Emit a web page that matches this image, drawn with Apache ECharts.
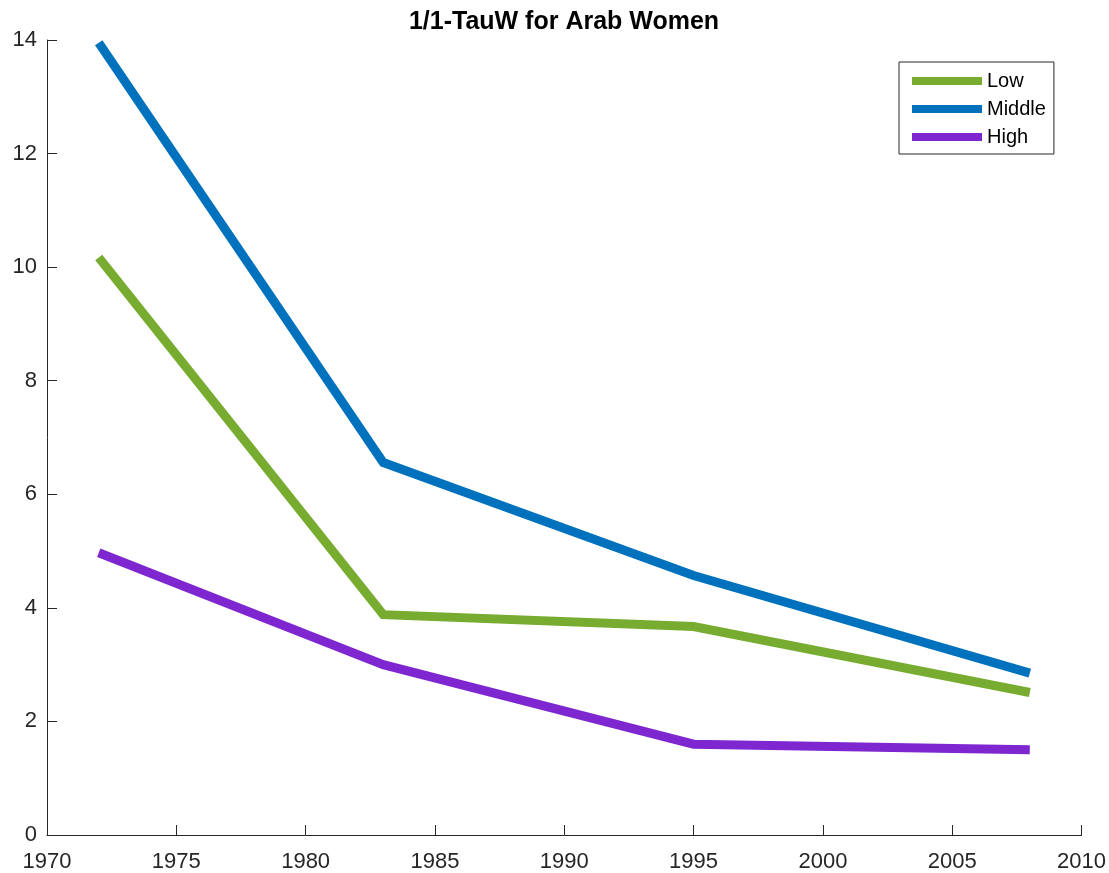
<!DOCTYPE html>
<html>
<head>
<meta charset="utf-8">
<style>
  html, body { margin: 0; padding: 0; background: #fff; }
  #chart { width: 1109px; height: 873px; }
</style>
<script src="https://cdn.jsdelivr.net/npm/echarts@6/dist/echarts.min.js"></script>
</head>
<body>
<div id="chart"></div>
<script>
// data
const years = [1972, 1983, 1995, 2008]
const lowValues = [10.17, 3.88, 3.67, 2.51]
const middleValues = [13.95, 6.56, 4.57, 2.85]
const highValues = [4.97, 3.0, 1.6, 1.5]
const seriesNames = ['Low', 'Middle', 'High']
const seriesColors = ['#77ac30', '#0072bd', '#7e27d0']

const font = 'Liberation Sans, Arial, Helvetica, sans-serif'
const axisColor = '#262626'

function toPairs(values) {
  return years.map((y, i) => [y, values[i]])
}

const chart = echarts.init(document.getElementById('chart'))

chart.setOption({
  animation: false,
  title: {
    text: '1/1-TauW for Arab Women',
    left: 559,
    textAlign: 'center',
    top: 5,
    textStyle: { fontFamily: font, fontSize: 25, fontWeight: 'bold', color: '#000' }
  },
  legend: {
    data: seriesNames,
    orient: 'vertical',
    left: 899,
    top: 62,
    padding: [9, 8, 7, 13],
    itemGap: 8,
    itemWidth: 70,
    itemHeight: 8,
    icon: 'rect',
    borderColor: '#262626',
    borderWidth: 1,
    backgroundColor: '#fff',
    textStyle: { fontFamily: font, fontSize: 20, color: '#000', lineHeight: 19 }
  },
  grid: { left: 47, right: 27, top: 40, bottom: 36 },
  xAxis: {
    type: 'value',
    min: 1970,
    max: 2010,
    interval: 5,
    axisLine: { show: true, lineStyle: { color: axisColor, width: 1 } },
    axisTick: { show: true, inside: true, length: 10, lineStyle: { color: axisColor } },
    axisLabel: {
      fontFamily: font, fontSize: 22, color: axisColor, margin: 16,
      formatter: v => String(v)
    },
    splitLine: { show: false }
  },
  yAxis: {
    type: 'value',
    min: 0,
    max: 14,
    interval: 2,
    axisLine: { show: true, lineStyle: { color: axisColor, width: 1 } },
    axisTick: { show: true, inside: true, length: 10, lineStyle: { color: axisColor } },
    axisLabel: { fontFamily: font, fontSize: 22, color: axisColor, margin: 10 },
    splitLine: { show: false }
  },
  series: [
    { name: 'Low', type: 'line', data: toPairs(lowValues) },
    { name: 'Middle', type: 'line', data: toPairs(middleValues) },
    { name: 'High', type: 'line', data: toPairs(highValues) }
  ].map((s, i) => Object.assign(s, {
    color: seriesColors[i],
    showSymbol: false,
    symbol: 'none',
    lineStyle: { width: 9, color: seriesColors[i], cap: 'butt', join: 'miter' }
  }))
})
</script>
</body>
</html>
